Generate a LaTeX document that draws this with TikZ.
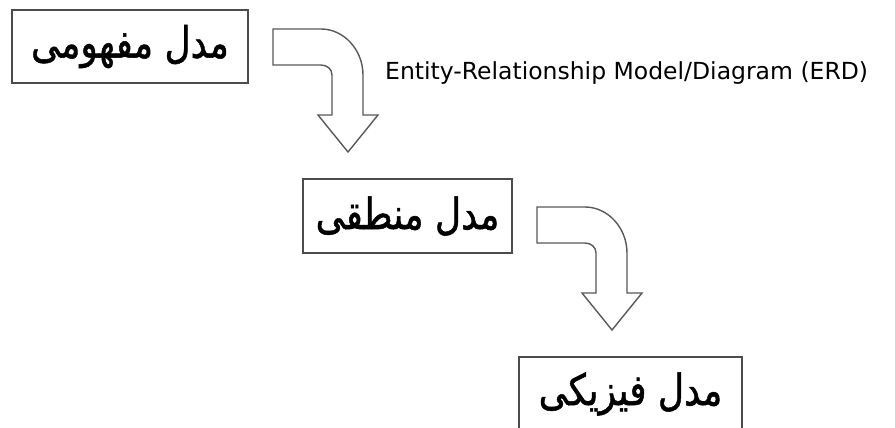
\documentclass[tikz,border=0pt]{standalone}
\usepackage{fontspec}
\usepackage{graphicx}
\setmainfont{DejaVu Sans}
\newfontfamily\arabicfont[Script=Arabic,FakeBold=1.2]{DejaVu Sans}
\TeXXeTstate=1
\newcommand\farsi[1]{\scalebox{1}[1.2]{\beginR #1\endR}}
\tikzset{
  modelbox/.style={draw=black!70,line width=1.5pt,rectangle,inner sep=0pt,
    font=\arabicfont\fontsize{36}{44}\selectfont},
  turnarrow/.pic={
    \draw[black!65,line width=1.4pt,line join=miter,fill=white]
      (0,0)--(48,0) .. controls (71,0) and (90,21) .. (90,46)--(90,86)--(105,86)
      --(75,123)--(45,86)--(59,86)--(59,46) .. controls (59,40) and (54,36) .. (48,36)
      --(0,36)--cycle;
  }
}
\begin{document}
\begin{tikzpicture}[x=1pt,y=-1pt]
\useasboundingbox (0,0) rectangle (895,428);
\node[modelbox,minimum width=236pt,minimum height=73pt] (concept) at (130,46.5) {\farsi{مدل مفهومی}};
\node[modelbox,minimum width=209pt,minimum height=74pt] (logic) at (407.5,216) {\farsi{مدل منطقی}};
\node[modelbox,minimum width=223pt,minimum height=74pt] (phys) at (630.5,394) {\farsi{مدل فیزیکی}};

\pic at (273,29) {turnarrow};
\pic at (537,207) {turnarrow};

\node[anchor=base west,inner sep=0pt,font=\fontsize{23.5}{28}\selectfont] (erd) at (385,80) {Entity-Relationship Model/Diagram (ERD)};
\end{tikzpicture}
\end{document}
